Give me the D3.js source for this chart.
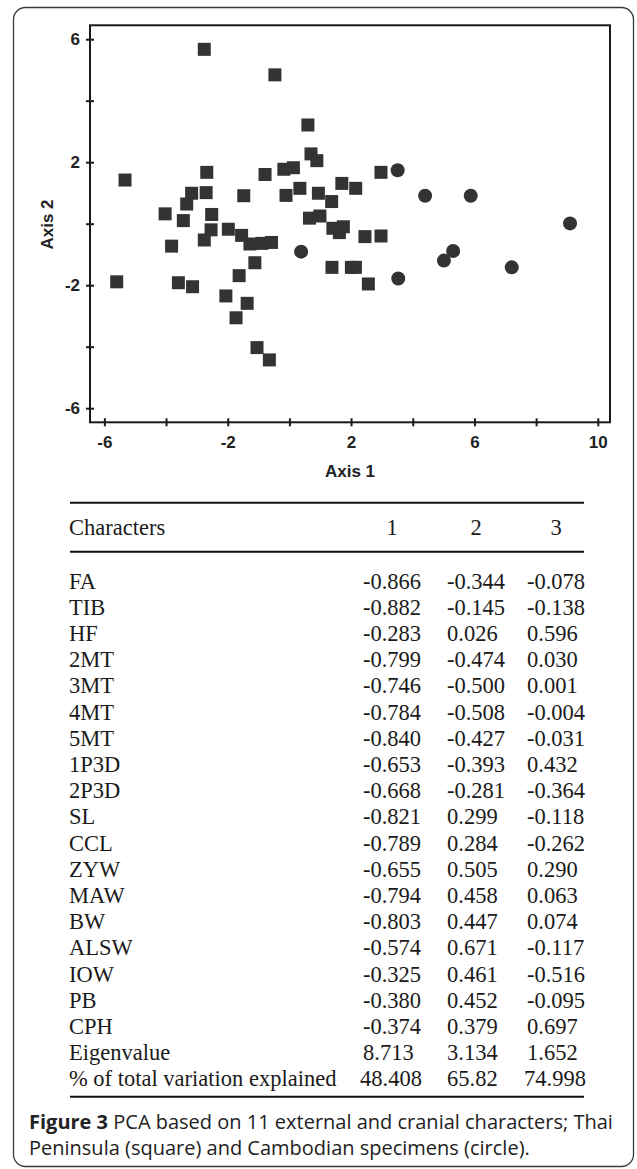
<!DOCTYPE html>
<html>
<head>
<meta charset="utf-8">
<script src="https://cdn.jsdelivr.net/npm/d3@7"></script>
<style>
  html, body { margin: 0; padding: 0; background: #fff; }
  svg { display: block; }
  .tick text { font-family: "Liberation Sans", Arial, sans-serif; font-weight: bold; font-size: 17px; fill: #222; }
</style>
</head>
<body>
<div id="chart"></div>
<script>
// Scatter scores (Axis 1, Axis 2)
const squareX = [-2.76, -0.47, 0.60, 0.70, 0.89, -5.33, -2.68, -0.79, -0.18, 0.13, 2.97,
  -3.17, -2.70, -3.33, -1.48, -0.11, 0.34, 0.94, 1.70, 2.15, 1.37, -4.03, -3.44, -2.52,
  -2.54, -2.76, -1.98, -1.55, -1.28, -0.89, -0.58, -3.82, 0.65, 0.99, 1.41, 1.75, 1.62,
  2.45, 2.97, -1.12, -1.63, -5.60, -3.60, -3.14, -2.06, -1.37, -1.73, -1.05, -0.65,
  1.38, 2.01, 2.14, 2.56];
const squareY = [5.67, 4.84, 3.21, 2.27, 2.05, 1.42, 1.67, 1.60, 1.77, 1.82, 1.67,
  0.99, 1.01, 0.64, 0.91, 0.92, 1.15, 0.99, 1.31, 1.15, 0.72, 0.32, 0.10, 0.30,
  -0.20, -0.53, -0.18, -0.38, -0.66, -0.64, -0.61, -0.73, 0.18, 0.25, -0.15, -0.10, -0.29,
  -0.42, -0.40, -1.27, -1.69, -1.89, -1.92, -2.05, -2.35, -2.59, -3.06, -4.03, -4.43,
  -1.42, -1.42, -1.42, -1.96];
const circleX = [3.51, 4.40, 5.88, 9.10, 0.38, 5.01, 5.31, 7.21, 3.53];
const circleY = [1.74, 0.91, 0.91, 0.01, -0.91, -1.20, -0.89, -1.42, -1.78];

const xTicks = [-6, -4, -2, 0, 2, 4, 6, 8, 10];
const yTicks = [-6, -4, -2, 0, 2, 4, 6];
const xLabelled = [-6, -2, 2, 6, 10];
const yLabelled = [-6, -2, 2, 6];

// Loadings table
const tableHeader = ['Characters', '1', '2', '3'];
const characters = ['FA', 'TIB', 'HF', '2MT', '3MT', '4MT', '5MT', '1P3D', '2P3D', 'SL',
  'CCL', 'ZYW', 'MAW', 'BW', 'ALSW', 'IOW', 'PB', 'CPH', 'Eigenvalue',
  '% of total variation explained'];
const comp1 = ['-0.866', '-0.882', '-0.283', '-0.799', '-0.746', '-0.784', '-0.840', '-0.653',
  '-0.668', '-0.821', '-0.789', '-0.655', '-0.794', '-0.803', '-0.574', '-0.325', '-0.380',
  '-0.374', '8.713', '48.408'];
const comp2 = ['-0.344', '-0.145', '0.026', '-0.474', '-0.500', '-0.508', '-0.427', '-0.393',
  '-0.281', '0.299', '0.284', '0.505', '0.458', '0.447', '0.671', '0.461', '0.452',
  '0.379', '3.134', '65.82'];
const comp3 = ['-0.078', '-0.138', '0.596', '0.030', '0.001', '-0.004', '-0.031', '0.432',
  '-0.364', '-0.118', '-0.262', '0.290', '0.063', '0.074', '-0.117', '-0.516', '-0.095',
  '0.697', '1.652', '74.998'];

const captionBold = 'Figure 3';
const captionLine1 = ' PCA based on 11 external and cranial characters; Thai';
const captionLine2 = 'Peninsula (square) and Cambodian specimens (circle).';

const W = 637, H = 1169;
const PLOT = { left: 90, right: 610, top: 25.3, bottom: 422.3 };
const INK = '#333';

const svg = d3.select('#chart').append('svg')
  .attr('width', W)
  .attr('height', H);

// Outer rounded panel
svg.append('rect')
  .attr('x', 13.5).attr('y', 7.5)
  .attr('width', 620).attr('height', 1159)
  .attr('rx', 12).attr('ry', 12)
  .attr('fill', '#fff')
  .attr('stroke', '#3a3a3a')
  .attr('stroke-width', 1.3);

const xScale = d3.scaleLinear().domain([-6.466, 10.396]).range([PLOT.left, PLOT.right]);
const yScale = d3.scaleLinear().domain([-6.459, 6.452]).range([PLOT.bottom, PLOT.top]);

const g = svg.append('g');

// Axes (ticks cross the frame line)
const xAxis = g.append('g')
  .attr('transform', `translate(0,${PLOT.bottom})`)
  .call(d3.axisBottom(xScale).tickValues(xTicks).tickSize(4).tickPadding(10)
    .tickFormat(d => xLabelled.includes(d) ? d : ''));
xAxis.select('.domain').remove();
xAxis.selectAll('.tick line').attr('y1', -4).attr('stroke', '#1a1a1a').attr('stroke-width', 2);

const yAxis = g.append('g')
  .attr('transform', `translate(${PLOT.left},0)`)
  .call(d3.axisLeft(yScale).tickValues(yTicks).tickSize(4).tickPadding(6)
    .tickFormat(d => yLabelled.includes(d) ? d : ''));
yAxis.select('.domain').remove();
yAxis.selectAll('.tick line').attr('x1', 4).attr('stroke', '#1a1a1a').attr('stroke-width', 2);

// Frame
g.append('rect')
  .attr('x', PLOT.left).attr('y', PLOT.top)
  .attr('width', PLOT.right - PLOT.left).attr('height', PLOT.bottom - PLOT.top)
  .attr('fill', 'none')
  .attr('stroke', '#1a1a1a')
  .attr('stroke-width', 2);

// Axis titles
svg.append('text')
  .attr('x', (PLOT.left + PLOT.right) / 2)
  .attr('y', 477)
  .attr('text-anchor', 'middle')
  .style('font-family', '"Liberation Sans", Arial, sans-serif')
  .style('font-weight', 'bold')
  .style('font-size', '17px')
  .attr('fill', '#222')
  .text('Axis 1');

svg.append('text')
  .attr('transform', 'translate(53,224.5) rotate(-90)')
  .attr('text-anchor', 'middle')
  .style('font-family', '"Liberation Sans", Arial, sans-serif')
  .style('font-weight', 'bold')
  .style('font-size', '17px')
  .attr('fill', '#222')
  .text('Axis 2');

// Markers
const squares = squareX.map((x, i) => ({ x, y: squareY[i] }));
const circles = circleX.map((x, i) => ({ x, y: circleY[i] }));

g.selectAll('.sq')
  .data(squares)
  .join('path')
  .attr('class', 'sq')
  .attr('transform', d => `translate(${xScale(d.x)},${yScale(d.y)})`)
  .attr('d', d3.symbol(d3.symbolSquare).size(169))
  .attr('fill', INK);

g.selectAll('.ci')
  .data(circles)
  .join('path')
  .attr('class', 'ci')
  .attr('transform', d => `translate(${xScale(d.x)},${yScale(d.y)})`)
  .attr('d', d3.symbol(d3.symbolCircle).size(Math.PI * 7 * 7))
  .attr('fill', INK);

// Table
const TBL = { left: 69, right: 584, top: 502.7, headRule: 551.7, bottom: 1096.7 };
const colStart = [69, 363, 447, 527];
const colWidth = 58;
const rowY = d3.scaleLinear().domain([0, characters.length - 1]).range([588.5, 1086.3]);
const serif = '"Liberation Serif", "Times New Roman", serif';

const tbl = svg.append('g')
  .style('font-family', serif)
  .style('font-size', '22.5px')
  .attr('fill', '#1a1a1a');

[TBL.top, TBL.headRule, TBL.bottom].forEach(y => {
  tbl.append('line')
    .attr('x1', 70).attr('x2', TBL.right)
    .attr('y1', y).attr('y2', y)
    .attr('stroke', '#111')
    .attr('stroke-width', 2);
});

tableHeader.forEach((h, i) => {
  tbl.append('text')
    .attr('x', i === 0 ? colStart[0] : colStart[i] + colWidth / 2)
    .attr('y', 535)
    .attr('text-anchor', i === 0 ? 'start' : 'middle')
    .text(h);
});

const rows = characters.map((c, i) => ({ name: c, v: [comp1[i], comp2[i], comp3[i]], i }));
const rowG = tbl.selectAll('.row')
  .data(rows)
  .join('g')
  .attr('class', 'row')
  .attr('transform', d => `translate(0,${rowY(d.i)})`);

rowG.append('text').attr('x', colStart[0]).text(d => d.name);
[0, 1, 2].forEach(k => {
  rowG.append('text')
    .attr('x', d => colStart[k + 1] - (d.v[k].length === 6 && d.v[k][0] !== '-' ? 3 : 0))
    .text(d => d.v[k]);
});

// Caption
const sans = '"Open Sans", "Noto Sans", sans-serif';
const cap1 = svg.append('text')
  .attr('x', 29).attr('y', 1129)
  .style('font-family', sans)
  .style('font-size', '17px')
  .attr('fill', '#222');
cap1.append('tspan').style('font-weight', 'bold').text(captionBold);
cap1.append('tspan').text(captionLine1);

const cap2 = svg.append('text')
  .attr('x', 29).attr('y', 1155)
  .style('font-family', sans)
  .style('font-size', '17px')
  .attr('fill', '#222')
  .text(captionLine2);

// fit caption line 1 to its width in the figure
const w1 = cap1.node().getComputedTextLength();
const fs = 17 * 584 / w1;
cap1.style('font-size', fs + 'px');
cap2.style('font-size', fs + 'px');
</script>
</body>
</html>
